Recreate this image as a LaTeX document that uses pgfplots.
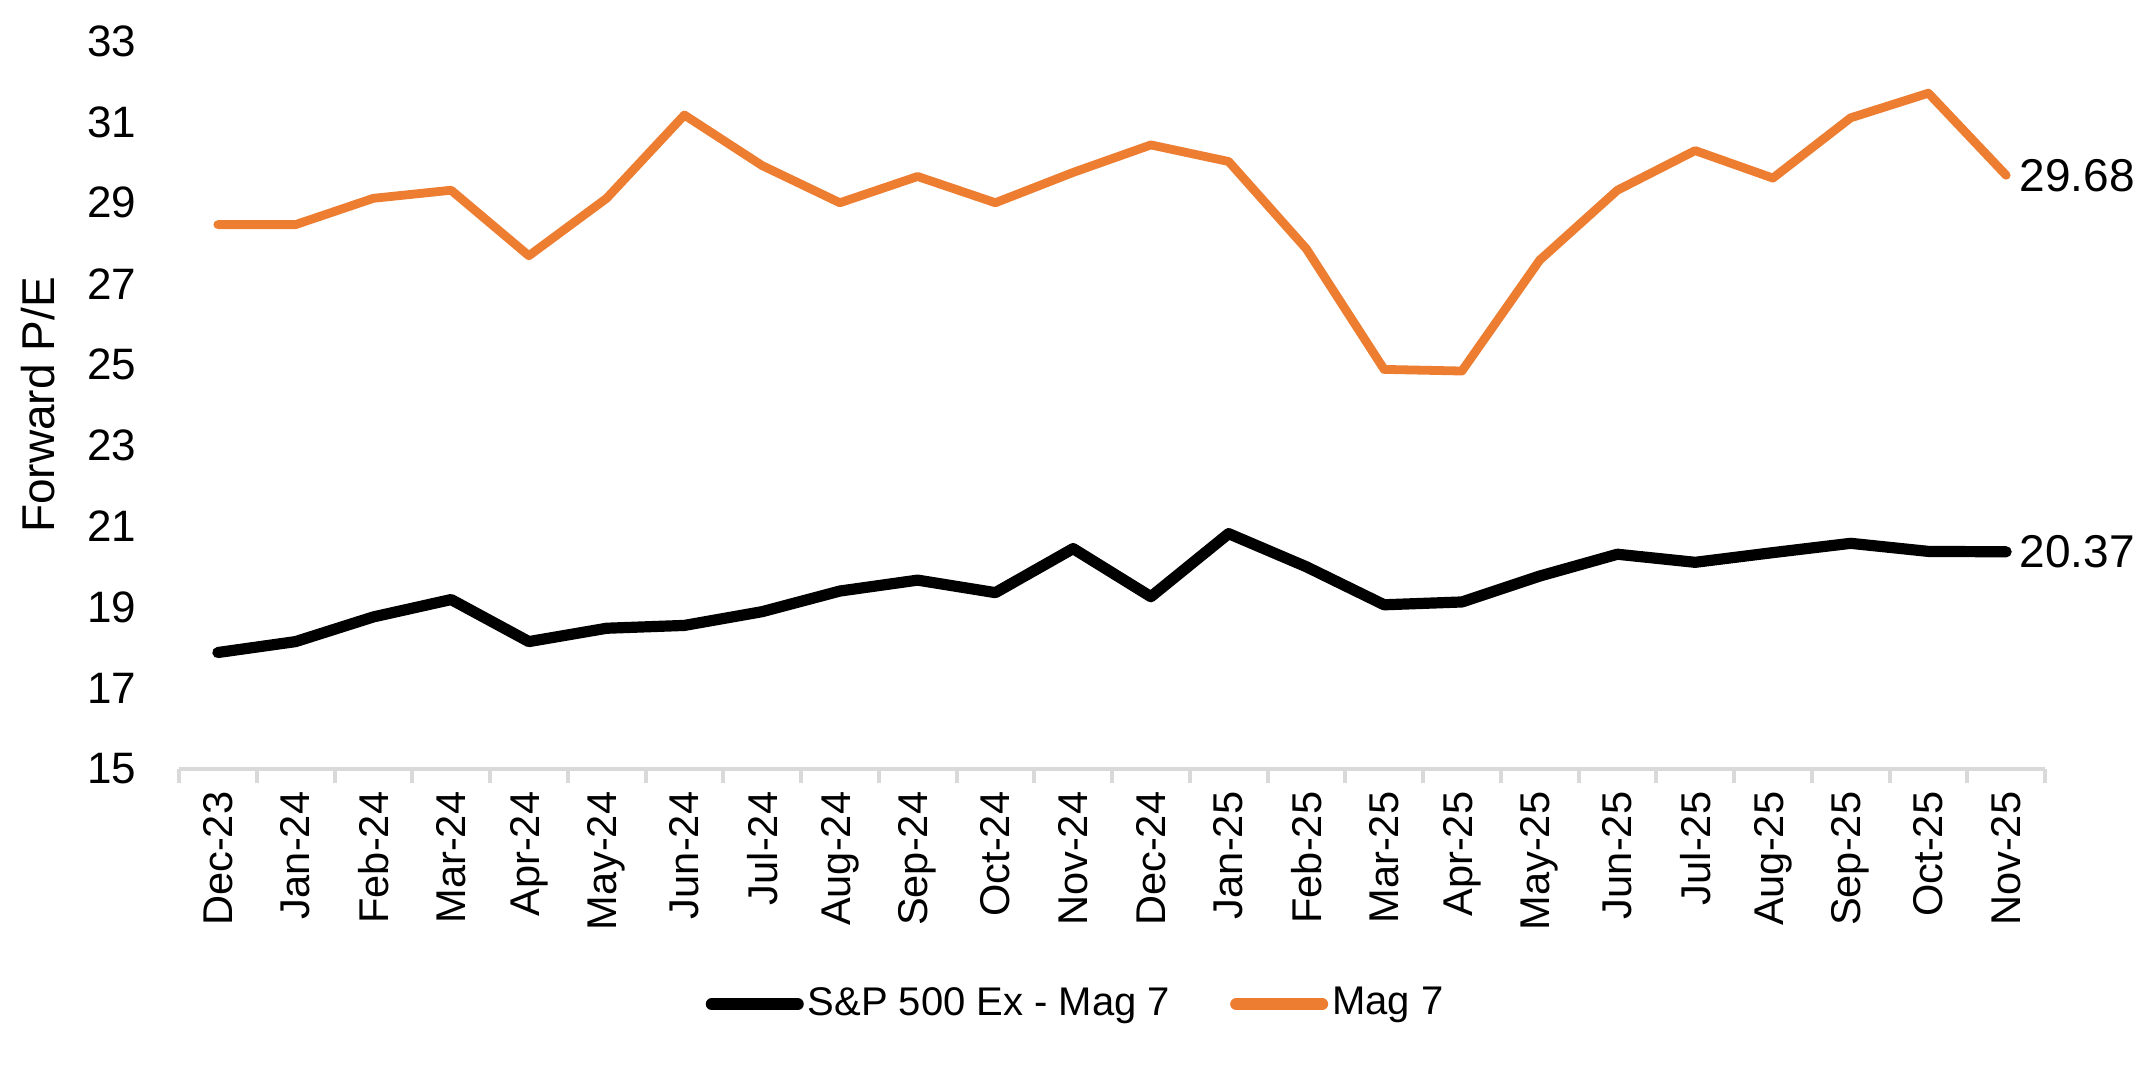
\documentclass[border=0pt]{standalone}
\usepackage{fontspec}
\setmainfont{Liberation Sans}
\usepackage{pgfplots}
\pgfplotsset{compat=1.18}
\usetikzlibrary{calc}

\definecolor{magorange}{HTML}{ED7D31}
\definecolor{axisgray}{HTML}{D9D9D9}

% forward P/E, Dec-23 .. Nov-25 (index 0..23)
\pgfplotstableread{
idx spx mag
0  17.88 28.46
1  18.15 28.46
2  18.76 29.11
3  19.19 29.31
4  18.15 27.69
5  18.48 29.11
6  18.55 31.17
7  18.89 29.92
8  19.40 29.00
9  19.67 29.65
10 19.36 29.00
11 20.45 29.75
12 19.26 30.43
13 20.82 30.02
14 20.00 27.86
15 19.06 24.88
16 19.13 24.84
17 19.77 27.58
18 20.31 29.31
19 20.11 30.29
20 20.35 29.61
21 20.58 31.10
22 20.38 31.71
23 20.37 29.68
}\petable

\begin{document}
\begin{tikzpicture}
\begin{axis}[
    scale only axis,
    width=466.5pt, height=182pt,
    xmin=-0.5, xmax=23.5,
    ymin=15, ymax=33,
    ytick={15,17,...,33},
    xtick={0,...,23},
    xticklabels={Dec-23,Jan-24,Feb-24,Mar-24,Apr-24,May-24,Jun-24,Jul-24,Aug-24,Sep-24,Oct-24,Nov-24,
                 Dec-24,Jan-25,Feb-25,Mar-25,Apr-25,May-25,Jun-25,Jul-25,Aug-25,Sep-25,Oct-25,Nov-25},
    minor xtick={-0.5,0.5,...,23.5},
    axis x line*=bottom,
    axis y line*=left,
    x axis line style={-, draw=axisgray, line width=1pt},
    y axis line style={draw=none},
    ytick style={draw=none},
    major x tick style={draw=none},
    minor x tick style={draw=axisgray, line width=1pt},
    tick align=outside,
    minor tick length=3.5pt,
    major tick length=0pt,
    /pgf/number format/assume math mode=true,
    yticklabel style={inner sep=0pt, xshift=-10.5pt, font=\fontsize{11}{13}\selectfont},
    xticklabel style={rotate=90, anchor=east, inner sep=5.5pt, font=\fontsize{10.4}{12}\selectfont},
    ylabel={Forward P/E},
    ylabel style={at={(axis description cs:-0.0756,0.5)}, anchor=center, font=\fontsize{11.5}{13}\selectfont},
    legend style={draw=none, at={(axis description cs:0.481,-0.323)}, anchor=center,
        legend columns=2, /tikz/every even column/.append style={column sep=14pt},
        nodes={inner sep=1pt}},
    legend image code/.code={\draw[#1, line width=3pt, line cap=round] (0.5pt,0pt) -- (22pt,0pt);},
    clip=false,
]
\addplot[black, line width=2.8pt, line join=round, line cap=round] table[x=idx, y=spx] {\petable};
\addlegendentry{S\&P 500 Ex - Mag 7}
\addplot[magorange, line width=2.2pt, line join=round, line cap=round] table[x=idx, y=mag] {\petable};
\addlegendentry{Mag 7}

% end labels
\addplot[draw=none, forget plot, nodes near coords, point meta=explicit symbolic,
    nodes near coords style={anchor=west, inner sep=0pt, xshift=3.2pt, font=\fontsize{11.5}{13}\selectfont}]
    coordinates {(23,29.68)[29.68] (23,20.37)[20.37]};

\coordinate (bl) at (rel axis cs:0,0);
\coordinate (tr) at (rel axis cs:1,1);
\end{axis}
\pgfresetboundingbox
\path ($(bl)+(-44.75pt,-76.125pt)$) rectangle ($(tr)+(25pt,10.25pt)$);
\end{tikzpicture}
\end{document}
